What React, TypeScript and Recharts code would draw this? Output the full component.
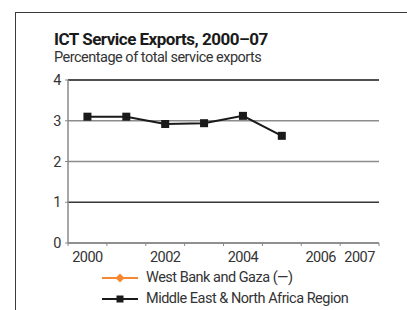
import { LineChart, Line, XAxis, YAxis, CartesianGrid, ReferenceLine, Legend } from "recharts";

const years = [2000, 2001, 2002, 2003, 2004, 2005, 2006, 2007];
const menaValues = [3.1, 3.1, 2.92, 2.94, 3.12, 2.63, null, null];
const wbgValues = [null, null, null, null, null, null, null, null];
const yTicks = [0, 1, 2, 3, 4];
const yearLabels = [2000, 2002, 2004, 2006, 2007];
const bandEdges = [1999.5, 2000.5, 2001.5, 2002.5, 2003.5, 2004.5, 2005.5, 2006.5, 2007.5];
const seriesOrder = ["wbg", "mena"];

const FONT = 'Roboto, "DejaVu Sans", sans-serif';
const fontBase = { fontFamily: FONT, letterSpacing: -0.5 };

const data = years.map((year, i) => ({ year, mena: menaValues[i], wbg: wbgValues[i] }));

function SquareDot(props: any) {
  const { cx, cy, value } = props;
  if (value == null || cx == null || cy == null) return null;
  return <rect x={cx - 4} y={cy - 4} width={8} height={8} fill="#1a1a1a" />;
}

function LegendContent({ payload }: any) {
  const items = [...(payload || [])].sort(
    (a: any, b: any) => seriesOrder.indexOf(a.dataKey) - seriesOrder.indexOf(b.dataKey)
  );
  return (
    <div style={{ ...fontBase, height: 42, paddingLeft: 102, fontSize: 14.5, color: "#333" }}>
      {items.map((p: any) => (
        <div key={p.dataKey} style={{ display: "flex", alignItems: "center", height: 21 }}>
          <svg width={36} height={12} style={{ marginRight: 8 }}>
            <line x1={0} y1={6} x2={36} y2={6} stroke={p.color} strokeWidth={2} />
            {p.dataKey === "wbg" ? (
              <path d="M18,1.5 L22.5,6 L18,10.5 L13.5,6 Z" fill={p.color} />
            ) : (
              <rect x={14.5} y={2.5} width={7} height={7} fill={p.color} />
            )}
          </svg>
          <span>{p.value}</span>
        </div>
      ))}
    </div>
  );
}

export default function App() {
  return (
    <div style={{ position: "absolute", left: 0, top: 0, width: 407, height: 310, background: "#fff", overflow: "hidden" }}>
      <div
        style={{
          position: "absolute",
          left: 15,
          top: 12,
          width: 420,
          height: 320,
          borderLeft: "1.5px solid #3a3a3a",
          borderTop: "1.5px solid #3a3a3a",
        }}
      />
      <div style={{ ...fontBase, position: "absolute", left: 54, top: 31, fontWeight: 700, fontSize: 17, lineHeight: "16px", color: "#1a1a1a" }}>
        ICT Service Exports, 2000–07
      </div>
      <div style={{ ...fontBase, position: "absolute", left: 54, top: 51, fontSize: 14.5, lineHeight: "14px", color: "#333" }}>
        Percentage of total service exports
      </div>
      <div style={{ position: "absolute", left: 0, top: 0 }}>
        <LineChart width={407} height={310} data={data} margin={{ top: 80, right: 28, left: 0, bottom: 1 }}>
          <CartesianGrid horizontal vertical={false} stroke="#8c8c8c" strokeWidth={1.5} />
          <ReferenceLine y={1} stroke="#1a1a1a" strokeWidth={1.2} />
          <ReferenceLine y={4} stroke="#333" strokeWidth={1.5} />
          <XAxis
            dataKey="year"
            type="number"
            domain={[1999.5, 2007.5]}
            ticks={bandEdges}
            tickFormatter={() => ""}
            height={4}
            tickSize={3}
            stroke="#888"
            axisLine={{ stroke: "#888", strokeWidth: 1.5 }}
          />
          <XAxis
            xAxisId="labels"
            dataKey="year"
            type="number"
            domain={[1999.5, 2007.5]}
            ticks={yearLabels}
            interval={0}
            height={20}
            tickSize={0}
            tickMargin={5}
            tickLine={false}
            axisLine={false}
            tick={{ ...fontBase, fontSize: 14.5, fill: "#333" }}
          />
          <YAxis
            domain={[0, 4]}
            ticks={yTicks}
            width={68}
            tickSize={3}
            tickMargin={4}
            stroke="#888"
            axisLine={{ stroke: "#888", strokeWidth: 1.5 }}
            tick={{ ...fontBase, fontSize: 14.5, fill: "#333" }}
          />
          <YAxis yAxisId="right" orientation="right" width={0} tick={false} tickLine={false} axisLine={{ stroke: "#888", strokeWidth: 2 }} />
          <Legend verticalAlign="bottom" align="left" layout="horizontal" content={<LegendContent />} />
          <Line
            dataKey="wbg"
            name="West Bank and Gaza (—)"
            stroke="#f7882f"
            strokeWidth={2}
            dot={false}
            isAnimationActive={false}
          />
          <Line
            dataKey="mena"
            name="Middle East & North Africa Region"
            stroke="#1a1a1a"
            strokeWidth={2}
            dot={<SquareDot />}
            activeDot={false}
            isAnimationActive={false}
          />
        </LineChart>
      </div>
    </div>
  );
}
